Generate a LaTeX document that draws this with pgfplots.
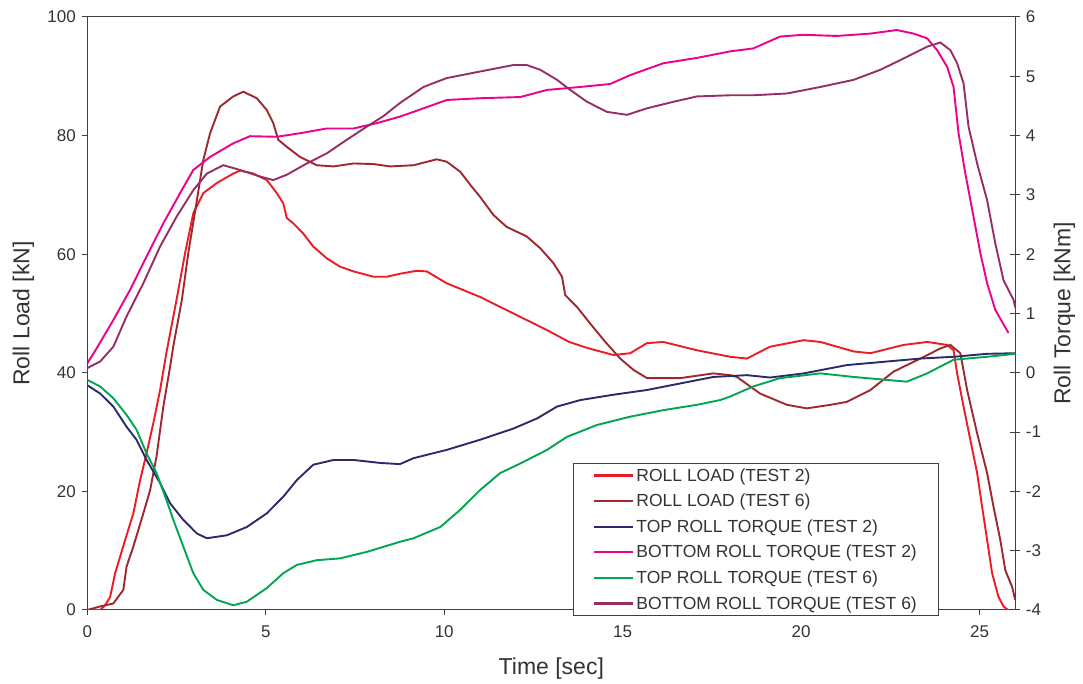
\documentclass[border=0pt]{standalone}
\usepackage{fontspec}
\setmainfont{Liberation Sans}
\usepackage{pgfplots}
\pgfplotsset{compat=1.18}

\definecolor{axisgray}{RGB}{64,64,64}
\definecolor{textgray}{RGB}{51,51,51}
\definecolor{loadA}{RGB}{237,28,36}
\definecolor{loadB}{RGB}{158,40,45}
\definecolor{topA}{RGB}{43,43,107}
\definecolor{botA}{RGB}{236,0,140}
\definecolor{topB}{RGB}{0,166,81}
\definecolor{botB}{RGB}{150,45,100}

\pgfplotsset{
  common/.style={
    at={(0pt,0pt)}, anchor=south west,
    scale only axis, width=928pt, height=593pt,
    xmin=0, xmax=26,
    axis line style={color=axisgray, line width=1pt},
    tick style={color=axisgray, line width=1pt},
    ticklabel style={font=\fontsize{17}{20}\selectfont, color=textgray},
    /pgf/number format/assume math mode=true,
    label style={font=\fontsize{23}{26}\selectfont, color=textgray},
    every axis plot/.append style={line width=1.9pt, mark=none},
  },
}

\begin{document}
\begin{tikzpicture}
\path[use as bounding box] (-87.3pt,-74pt) rectangle (995.7pt,610pt);

% Roll load, left axis [kN]
\begin{axis}[common,
  ymin=0, ymax=100,
  xtick={0,5,...,25}, ytick={0,20,...,100},
  xtick pos=lower, ytick pos=left,
  tick align=outside, major tick length=5pt,
  xticklabel style={yshift=-7pt},
  yticklabel style={xshift=-3pt},
  xlabel={Time [sec]}, ylabel={Roll Load [kN]},
  xlabel style={at={(axis description cs:0.5,-0.0995)}, anchor=center},
  ylabel style={at={(axis description cs:-0.0688,0.5)}, anchor=center},
]
% ROLL LOAD (TEST 2)
\addplot[loadA] coordinates {
(0,0) (0.36,0) (0.5,0.8) (0.64,2.2) (0.78,6.2) (1.06,11.8) (1.29,16.3)
(1.48,21.9) (1.66,26.4) (1.85,31.5) (2.04,37.1) (2.22,43.5) (2.5,52.3)
(2.74,60.2) (2.97,66.9) (3.25,70.3) (3.63,72.0) (4.09,73.6) (4.28,74.1)
(4.65,73.6) (5.03,72.5) (5.31,70.3) (5.49,68.6) (5.59,66.1) (5.77,65.2)
(6.05,63.5) (6.33,61.3) (6.71,59.3) (7.08,57.9) (7.46,57.1) (8.02,56.2)
(8.39,56.2) (8.76,56.7) (9.23,57.2) (9.51,57.1) (10.07,55.1) (11.0,52.8)
(11.94,50.0) (12.88,47.2) (13.5,45.2) (14.0,44.2) (14.74,43.0) (15.21,43.3)
(15.68,45.0) (16.14,45.2) (17.08,43.8) (18.01,42.7) (18.48,42.4) (19.13,44.4)
(20.07,45.5) (20.54,45.2) (21.47,43.6) (21.94,43.3) (22.87,44.7) (23.53,45.2)
(24.09,44.7) (24.27,43.8) (24.37,39.9) (24.55,34.3) (24.74,28.7) (24.93,23.1)
(25.07,17.4) (25.21,11.8) (25.35,6.2) (25.53,2.2) (25.67,0.6) (25.8,0)
};
% ROLL LOAD (TEST 6)
\addplot[loadB] coordinates {
(0,0) (0.36,0.6) (0.73,1.1) (1.01,3.4) (1.1,7.3) (1.29,10.7) (1.57,16.3)
(1.76,20.2) (1.94,25.9) (2.13,34.3) (2.32,41.0) (2.41,44.5) (2.65,52.3)
(2.83,60.2) (3.07,69.1) (3.25,75.9) (3.44,80.4) (3.72,84.9) (4.09,86.6)
(4.37,87.4) (4.75,86.3) (5.03,84.3) (5.21,82.1) (5.35,79.3) (5.59,78.1)
(5.96,76.4) (6.43,75.0) (6.9,74.8) (7.46,75.3) (8.02,75.2) (8.48,74.8)
(9.14,75.0) (9.79,76.0) (10.07,75.6) (10.45,73.9) (10.73,71.7) (11.0,69.7)
(11.38,66.6) (11.75,64.6) (12.31,63.0) (12.69,61.0) (13.06,58.5) (13.3,56.2)
(13.39,53.1) (13.72,51.1) (14.09,48.3) (14.5,45.3) (14.93,42.4) (15.3,40.5)
(15.68,39.1) (16.61,39.1) (17.54,39.9) (18.01,39.6) (18.2,39.3) (18.85,36.5)
(19.6,34.6) (20.16,34.0) (20.82,34.6) (21.28,35.1) (21.94,37.1) (22.59,40.2)
(23.34,42.4) (23.9,44.1) (24.18,44.7) (24.46,43.3) (24.65,37.1) (24.93,29.8)
(25.21,23.1) (25.39,17.4) (25.58,11.8) (25.72,6.7) (25.91,3.9) (26.0,1.7)
};
\end{axis}

% Roll torque, right axis [kNm]
\begin{axis}[common,
  ymin=-4, ymax=6, ytick={-4,-3,...,6},
  axis y line*=right, axis x line=none,
  tick align=center, major tick length=10pt,
  yticklabel style={xshift=2pt},
  ylabel={Roll Torque [kNm]},
  ylabel style={at={(axis description cs:1.053,0.5)}, anchor=center},
  legend cell align=left,
  legend image code/.code={\draw[#1, line width=2.2pt] (0pt,0pt) -- (39pt,0pt);},
  legend style={at={(axis description cs:0.918,-0.010)}, anchor=south east,
    draw=axisgray, line width=0.8pt, fill=white,
    font=\fontsize{17.5}{20}\selectfont, text=textgray,
    inner xsep=20pt, inner ysep=3pt, row sep=7.4pt,
    /tikz/every even column/.append style={column sep=5pt}},
]
\addlegendimage{loadA}
\addlegendentry{ROLL LOAD (TEST 2)}
\addlegendimage{loadB}
\addlegendentry{ROLL LOAD (TEST 6)}
% TOP ROLL TORQUE (TEST 2)
\addplot[topA] coordinates {
(0,-0.21) (0.36,-0.35) (0.73,-0.57) (1.1,-0.91) (1.38,-1.13) (1.66,-1.47)
(2.04,-1.86) (2.32,-2.20) (2.69,-2.48) (3.07,-2.71) (3.35,-2.79) (3.91,-2.74)
(4.47,-2.60) (5.03,-2.37) (5.49,-2.09) (5.87,-1.81) (6.33,-1.55) (6.9,-1.47)
(7.46,-1.47) (8.2,-1.52) (8.76,-1.54) (9.14,-1.44) (10.07,-1.30) (11.0,-1.13)
(11.94,-0.94) (12.6,-0.77) (13.16,-0.57) (13.81,-0.46) (14.74,-0.37)
(15.68,-0.29) (16.61,-0.18) (17.54,-0.07) (18.48,-0.04) (19.13,-0.08)
(20.07,-0.01) (21.28,0.13) (22.4,0.19) (23.34,0.24) (24.27,0.27) (25.21,0.32)
(26.0,0.33)
};
\addlegendentry{TOP ROLL TORQUE (TEST 2)}
% BOTTOM ROLL TORQUE (TEST 2)
\addplot[botA] coordinates {
(0,0.16) (0.26,0.41) (0.73,0.89) (1.2,1.40) (1.66,1.96) (2.13,2.52) (2.6,3.03)
(2.97,3.42) (3.44,3.64) (4.09,3.87) (4.56,3.99) (5.31,3.98) (5.96,4.04)
(6.71,4.12) (7.46,4.12) (8.11,4.21) (8.76,4.32) (9.14,4.40) (10.07,4.60)
(11.0,4.63) (12.13,4.65) (12.88,4.77) (13.81,4.82) (14.65,4.87) (15.21,5.02)
(16.14,5.22) (17.08,5.31) (18.01,5.42) (18.66,5.47) (19.41,5.67) (20.07,5.70)
(21.0,5.68) (21.94,5.72) (22.68,5.78) (23.15,5.72) (23.53,5.64) (23.81,5.44)
(24.09,5.16) (24.27,4.82) (24.41,4.04) (24.6,3.36) (24.83,2.63) (25.02,2.02)
(25.21,1.51) (25.44,1.06) (25.81,0.67)
};
\addlegendentry{BOTTOM ROLL TORQUE (TEST 2)}
% TOP ROLL TORQUE (TEST 6)
\addplot[topB] coordinates {
(0,-0.12) (0.36,-0.23) (0.73,-0.43) (1.1,-0.71) (1.38,-0.96) (1.66,-1.36)
(1.94,-1.69) (2.22,-2.15) (2.41,-2.48) (2.69,-2.93) (2.97,-3.38) (3.25,-3.66)
(3.63,-3.83) (4.09,-3.92) (4.47,-3.86) (5.03,-3.63) (5.49,-3.38) (5.87,-3.24)
(6.43,-3.16) (7.08,-3.13) (7.83,-3.02) (8.76,-2.85) (9.14,-2.79) (9.89,-2.60)
(10.45,-2.31) (11.0,-1.98) (11.57,-1.69) (12.13,-1.53) (12.88,-1.30)
(13.44,-1.08) (14.28,-0.88) (15.21,-0.74) (16.14,-0.63) (17.08,-0.54)
(17.73,-0.46) (18.01,-0.40) (18.66,-0.23) (19.41,-0.09) (20.54,-0.01)
(21.47,-0.07) (22.4,-0.12) (22.96,-0.15) (23.53,-0.01) (24.27,0.22)
(25.21,0.27) (26.0,0.32)
};
\addlegendentry{TOP ROLL TORQUE (TEST 6)}
% BOTTOM ROLL TORQUE (TEST 6)
\addplot[botB] coordinates {
(0,0.08) (0.36,0.19) (0.73,0.44) (1.1,0.95) (1.57,1.51) (2.04,2.13) (2.5,2.63)
(2.97,3.08) (3.35,3.36) (3.81,3.50) (4.28,3.42) (4.84,3.31) (5.21,3.25)
(5.59,3.34) (6.15,3.53) (6.71,3.70) (7.27,3.93) (7.83,4.15) (8.3,4.33)
(8.76,4.55) (9.42,4.82) (10.07,4.97) (11.0,5.08) (11.94,5.19) (12.31,5.19)
(12.69,5.11) (13.16,4.94) (13.53,4.77) (14.0,4.57) (14.56,4.40) (15.12,4.35)
(15.68,4.46) (16.42,4.57) (17.08,4.66) (18.01,4.68) (18.66,4.68) (19.6,4.71)
(20.54,4.82) (21.47,4.94) (22.22,5.11) (22.87,5.30) (23.53,5.50) (23.9,5.57)
(24.18,5.44) (24.37,5.22) (24.55,4.88) (24.69,4.15) (24.93,3.53) (25.21,2.91)
(25.44,2.18) (25.67,1.56) (25.95,1.23) (26.0,1.10)
};
\addlegendentry{BOTTOM ROLL TORQUE (TEST 6)}
\end{axis}
\end{tikzpicture}
\end{document}
